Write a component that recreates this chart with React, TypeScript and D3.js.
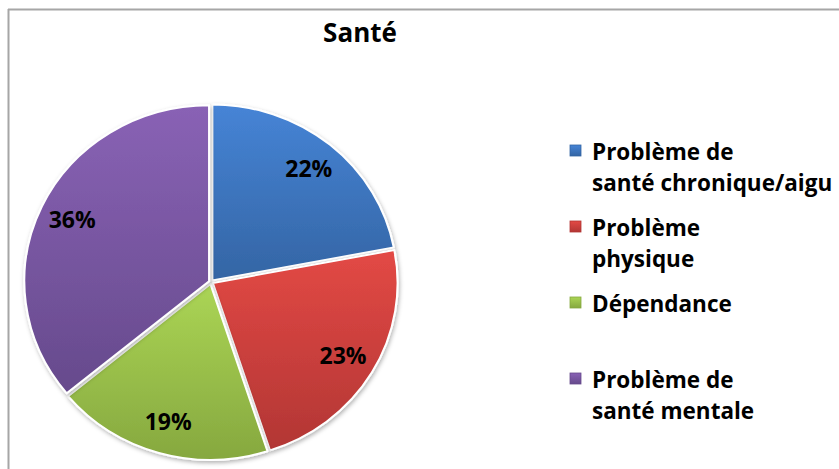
import * as d3 from "d3";

// chart data
const categories = [
  "Problème de santé chronique/aigu",
  "Problème physique",
  "Dépendance",
  "Problème de santé mentale",
];
const values = [22, 23, 19, 36];
const legendLines = [
  ["Problème de", "santé chronique/aigu"],
  ["Problème", "physique"],
  ["Dépendance"],
  ["Problème de", "santé mentale"],
];
const title = "Santé";
const colors = ["#4079c4", "#d0433f", "#9cc34e", "#7d5aa6"];
const darkColors = ["#3465a4", "#b23634", "#86a83f", "#664a8c"];

const width = 839;
const height = 469;
const cx = 211;
const cy = 282;
const radius = 176;
const font = "'Open Sans', 'DejaVu Sans', sans-serif";

export default function App() {
  const pieGen = d3
    .pie<number>()
    .sort(null)
    .value((d) => d);
  const arcs = pieGen(values);

  const arcFunc = d3.arc<d3.PieArcDatum<number>>().innerRadius(0).outerRadius(radius);
  const labelArc = d3
    .arc<d3.PieArcDatum<number>>()
    .innerRadius(radius * 0.83)
    .outerRadius(radius * 0.83);

  const legendY = d3.scaleLinear().domain([0, 3]).range([160, 388]);

  return (
    <svg
      width={width}
      height={height}
      style={{ position: "absolute", left: 0, top: 0, background: "#fff" }}
    >
      <defs>
        {colors.map((c, i) => (
          <linearGradient key={i} id={`grad${i}`} x1="0" y1="0" x2="0" y2="1">
            <stop offset="0%" stopColor={d3.color(c)!.brighter(0.25).formatHex()} />
            <stop offset="100%" stopColor={darkColors[i]} />
          </linearGradient>
        ))}
        <filter id="shadow" x="-10%" y="-10%" width="120%" height="120%">
          <feDropShadow dx="1" dy="2" stdDeviation="2" floodColor="#000" floodOpacity="0.3" />
        </filter>
      </defs>

      {/* chart area border (top and left only visible) */}
      <line x1={8} y1={9.5} x2={width} y2={9.5} stroke="#a6a6a6" strokeWidth={2} />
      <line x1={8.5} y1={9} x2={8.5} y2={height} stroke="#a6a6a6" strokeWidth={2} />

      <text
        x={360}
        y={42}
        textAnchor="middle"
        fontFamily={font}
        fontWeight={700}
        fontSize={26}
        fill="#000"
      >
        {title}
      </text>

      <g transform={`translate(${cx},${cy}) scale(1.05,1)`}>
        {arcs.map((a, i) => {
          const mid = (a.startAngle + a.endAngle) / 2;
          const off = 2;
          const dx = Math.sin(mid) * off;
          const dy = -Math.cos(mid) * off;
          return (
            <g key={i} transform={`translate(${dx},${dy})`} filter="url(#shadow)">
              <path
                d={arcFunc(a)!}
                fill={`url(#grad${i})`}
                stroke="#fff"
                strokeWidth={2}
                strokeLinejoin="round"
              />
            </g>
          );
        })}
      </g>

      {arcs.map((a, i) => {
        const [lx, ly] = labelArc.centroid(a);
        return (
          <text
            key={i}
            x={cx + lx * 1.05}
            y={cy + ly}
            dy="0.35em"
            textAnchor="middle"
            fontFamily={font}
            fontWeight={700}
            fontSize={23}
            fill="#000"
          >
            {`${values[i]}%`}
          </text>
        );
      })}

      {categories.map((c, i) => {
        const y = legendY(i);
        return (
          <g key={c}>
            <rect
              x={570}
              y={y - 15}
              width={11}
              height={11}
              fill={`url(#grad${i})`}
              stroke={darkColors[i]}
              strokeWidth={0.8}
            />
            <text fontFamily={font} fontWeight={700} fontSize={22.5} fill="#000">
              {legendLines[i].map((line, j) => (
                <tspan key={j} x={592} y={y + j * 31}>
                  {line}
                </tspan>
              ))}
            </text>
          </g>
        );
      })}
    </svg>
  );
}
